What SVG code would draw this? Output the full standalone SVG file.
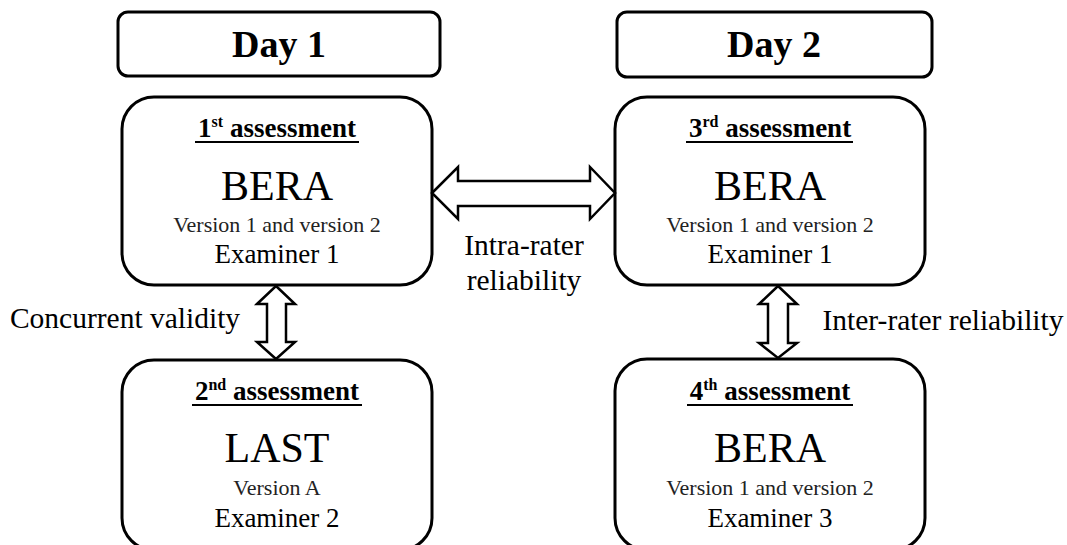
<svg xmlns="http://www.w3.org/2000/svg" width="1067" height="545" viewBox="0 0 1067 545">
<style>
.box{fill:#fff;stroke:#000;stroke-width:3}
.arrow{fill:#fff;stroke:#000;stroke-width:2.5;stroke-linejoin:miter}
text{font-family:"Liberation Serif","Times New Roman",serif;fill:#000;text-anchor:middle}
.day{font-size:38px;font-weight:bold}
.head{font-size:27px;font-weight:bold}
.sup{font-size:16px}
.big{font-size:42px}
.ver{font-size:22px;fill:#222}
.exam{font-size:27px}
.lab{font-size:29.5px}
.ul{stroke:#000;stroke-width:2}
</style>
<rect width="1067" height="545" fill="#fff"/>
<g id="day1">
<rect class="box" x="118" y="12" width="322" height="64" rx="10"/>
<text class="day" x="279" y="57">Day 1</text>
</g>
<g id="day2">
<rect class="box" x="617" y="12" width="315" height="65" rx="10"/>
<text class="day" x="774" y="57">Day 2</text>
</g>
<g id="assess1">
<rect class="box" x="122" y="97" width="310" height="188" rx="32"/>
<text class="head" x="277" y="137">1<tspan class="sup" dy="-10">st</tspan><tspan dy="10"> assessment</tspan></text>
<line class="ul" x1="195" y1="142" x2="359" y2="142"/>
<text class="big" x="277" y="200">BERA</text>
<text class="ver" x="277" y="232">Version 1 and version 2</text>
<text class="exam" x="277" y="263">Examiner 1</text>
</g>
<g id="assess2">
<rect class="box" x="122" y="360" width="310" height="190" rx="32"/>
<text class="head" x="277" y="400">2<tspan class="sup" dy="-10">nd</tspan><tspan dy="10"> assessment</tspan></text>
<line class="ul" x1="192" y1="405" x2="362" y2="405"/>
<text class="big" x="277" y="462">LAST</text>
<text class="ver" x="277" y="495">Version A</text>
<text class="exam" x="277" y="527">Examiner 2</text>
</g>
<g id="assess3">
<rect class="box" x="615" y="97" width="310" height="188" rx="32"/>
<text class="head" x="770" y="137">3<tspan class="sup" dy="-10">rd</tspan><tspan dy="10"> assessment</tspan></text>
<line class="ul" x1="686" y1="142" x2="853" y2="142"/>
<text class="big" x="770" y="200">BERA</text>
<text class="ver" x="770" y="232">Version 1 and version 2</text>
<text class="exam" x="770" y="263">Examiner 1</text>
</g>
<g id="assess4">
<rect class="box" x="615" y="359" width="310" height="191" rx="32"/>
<text class="head" x="770" y="400">4<tspan class="sup" dy="-10">th</tspan><tspan dy="10"> assessment</tspan></text>
<line class="ul" x1="687" y1="405" x2="853" y2="405"/>
<text class="big" x="770" y="462">BERA</text>
<text class="ver" x="770" y="495">Version 1 and version 2</text>
<text class="exam" x="770" y="527">Examiner 3</text>
</g>
<g id="connectors">
<polygon class="arrow" points="432,193 458,167 458,181 590,181 590,167 615,193 590,219 590,206 458,206 458,219"/>
<polygon class="arrow" points="276,286 295,304 286,304 286,342 295,342 276,359 257,342 267,342 267,304 257,304"/>
<polygon class="arrow" points="778,286 797,304 788,304 788,343 797,343 778,358 759,343 768,343 768,304 759,304"/>
</g>
<g id="labels">
<text class="lab" x="524" y="255">Intra-rater</text>
<text class="lab" x="524" y="290">reliability</text>
<text class="lab" x="125" y="328">Concurrent validity</text>
<text class="lab" x="943" y="330">Inter-rater reliability</text>
</g>
</svg>
